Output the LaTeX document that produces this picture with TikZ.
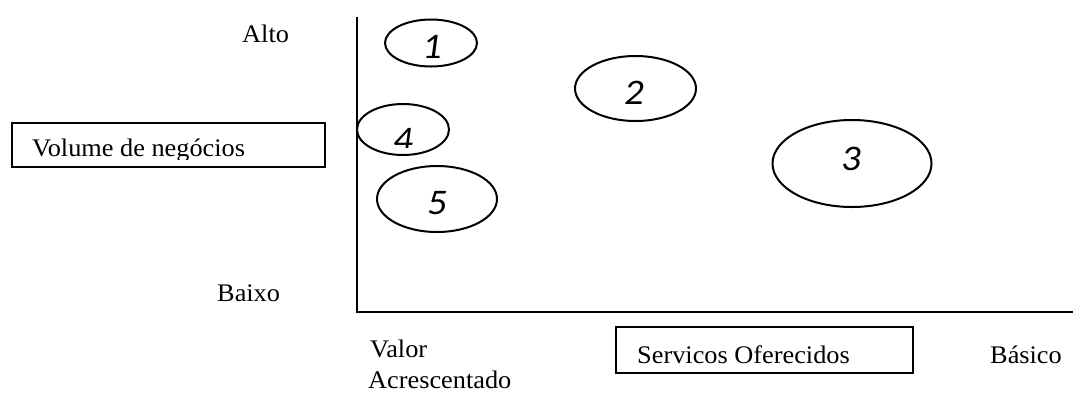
\documentclass[tikz,border=0pt]{standalone}
\usepackage{fontspec}
\setmainfont{Liberation Serif}[FakeStretch=1.04]
\newfontfamily\digitfont{Carlito}[FakeStretch=1.08]
\usetikzlibrary{shapes.geometric}
\tikzset{
  lbl/.style={inner sep=0pt, anchor=base west, font=\fontsize{25.3}{31}\selectfont},
  dig/.style={inner sep=0pt, font=\digitfont\itshape\fontsize{36}{40}\selectfont},
  oval/.style={ellipse, draw, line width=2pt, inner sep=0pt},
  axisline/.style={line width=2pt},
  frame/.style={draw, line width=1.5pt},
}
\begin{document}
\begin{tikzpicture}[x=1pt,y=-1pt]
\useasboundingbox (0,0) rectangle (1073,392);
% axes
\coordinate (top) at (357,17);
\coordinate (origin) at (357,312);
\coordinate (right) at (1073,312);
\draw[axisline] (top) -- (origin) -- (right);
% ellipses
\node[oval, minimum width=92pt, minimum height=47pt] (e1) at (431,43) {};
\node[oval, minimum width=121pt, minimum height=65pt] (e2) at (635.5,88.5) {};
\node[oval, minimum width=159pt, minimum height=87pt] (e3) at (852,163.5) {};
\node[oval, minimum width=92pt, minimum height=51pt] (e4) at (403,129.5) {};
\node[oval, minimum width=120pt, minimum height=66pt] (e5) at (437,199) {};
\node[dig] (d1) at (432,47) {1};
\node[dig] (d2) at (634,93) {2};
\node[dig] (d3) at (851,158.5) {3};
\begin{scope}
\clip (380,110) rectangle (430,147);
\node[dig] (d4) at (403,139.5) {4};
\end{scope}
\node[dig] (d5) at (437,203) {5};
% labels
\node[lbl] (alto) at (242,42) {Alto};
\node[lbl] (baixo) at (217,301) {Baixo};
\node[lbl] (valor) at (370,357) {Valor};
\node[lbl] (acresc) at (368,388) {Acrescentado};
\node[lbl] (basico) at (990,363) {Básico};
% boxes
\begin{scope}
\clip (12,123) rectangle (325,159);
\node[lbl] (volume) at (32,156) {Volume de negócios};
\end{scope}
\draw[frame] (12,123) rectangle (325,167);
\node[lbl] (servicos) at (637,363) {Servicos Oferecidos};
\draw[frame] (616,327) rectangle (913,373);
\end{tikzpicture}
\end{document}
